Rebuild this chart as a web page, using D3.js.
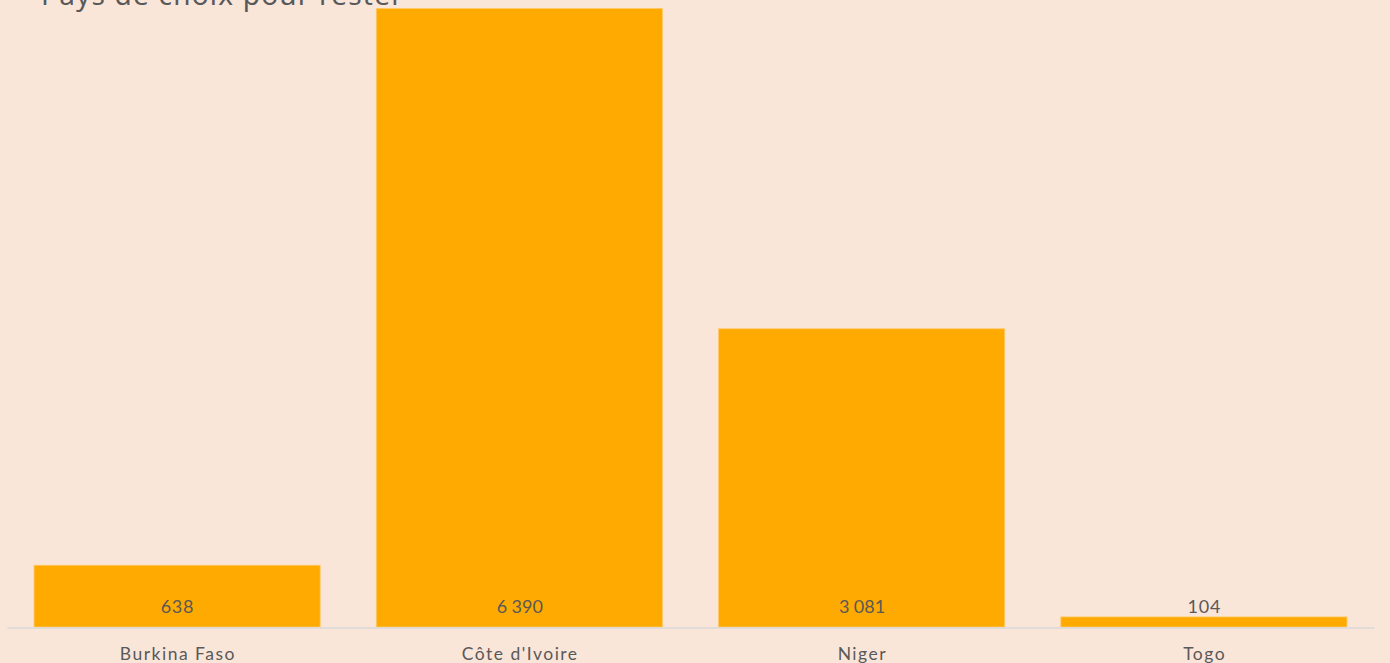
<!DOCTYPE html>
<html>
<head>
<meta charset="utf-8">
<script src="https://cdn.jsdelivr.net/npm/d3@7"></script>
<style>
  body { margin: 0; background: #fae5d9; }
  text { font-family: "Lato", "Noto Sans", sans-serif; fill: #595959; }
  .chartTitle { font-family: "Noto Sans", sans-serif; font-size: 28px; letter-spacing: 1.2px; }
  .valueLabel { font-size: 18px; letter-spacing: 0.8px; }
</style>
</head>
<body>
<div id="chart"></div>
<script>
// data
const countries = ["Burkina Faso", "Côte d'Ivoire", "Niger", "Togo"];
const values = [638, 6390, 3081, 104];
const title = "Pays de choix pour rester";

const width = 1390;
const height = 663;
const margin = {top: 8.5, left: 7, right: 16, bottom: 36};

const svg = d3.select("#chart")
    .append("svg")
    .attr("width", width)
    .attr("height", height);

svg.append("rect")
    .attr("width", width)
    .attr("height", height)
    .attr("fill", "#fae5d9");

const data = countries.map((c, i) => ({country: c, value: values[i]}));

// scales
const xScale = d3.scaleBand()
    .domain(countries)
    .range([margin.left, width - margin.right])
    .paddingInner(0.164)
    .paddingOuter(0.079);

const yScale = d3.scaleLinear()
    .domain([0, d3.max(values)])
    .range([height - margin.bottom, margin.top]);

// french number format, space as thousands separator
const fr = d3.formatLocale({decimal: ",", thousands: "\u202f", grouping: [3], currency: ["", " €"]});
const fmt = fr.format(",d");

// bars
svg.selectAll(".bar")
    .data(data)
    .enter()
    .append("rect")
    .attr("class", "bar")
    .attr("x", d => xScale(d.country))
    .attr("y", d => yScale(d.value))
    .attr("width", xScale.bandwidth())
    .attr("height", d => yScale(0) - yScale(d.value))
    .attr("fill", "#ffaa00")
    .attr("stroke", "#ffc966")
    .attr("stroke-width", 0.8);

// baseline axis
svg.append("g")
    .attr("transform", `translate(0, ${yScale(0) + 0.5})`)
    .call(d3.axisBottom(xScale).tickSize(0).tickPadding(20))
    .call(g => g.select(".domain").attr("stroke", "#d9d9d9").attr("stroke-width", 1.5))
    .call(g => g.selectAll(".tick text")
        .attr("fill", "#595959")
        .attr("dx", 0.75)
        .style("font-size", "17.5px")
        .style("letter-spacing", "1.5px")
        .style("font-family", "Lato, 'Noto Sans', sans-serif"));

// value labels
svg.selectAll(".valueLabel")
    .data(data)
    .enter()
    .append("text")
    .attr("class", "valueLabel")
    .attr("x", d => xScale(d.country) + xScale.bandwidth() / 2 + 0.4)
    .attr("y", yScale(0) - 14)
    .attr("text-anchor", "middle")
    .text(d => fmt(d.value));

// title
svg.append("text")
    .attr("class", "chartTitle")
    .attr("x", 41)
    .attr("y", 5)
    .text(title);
</script>
</body>
</html>
